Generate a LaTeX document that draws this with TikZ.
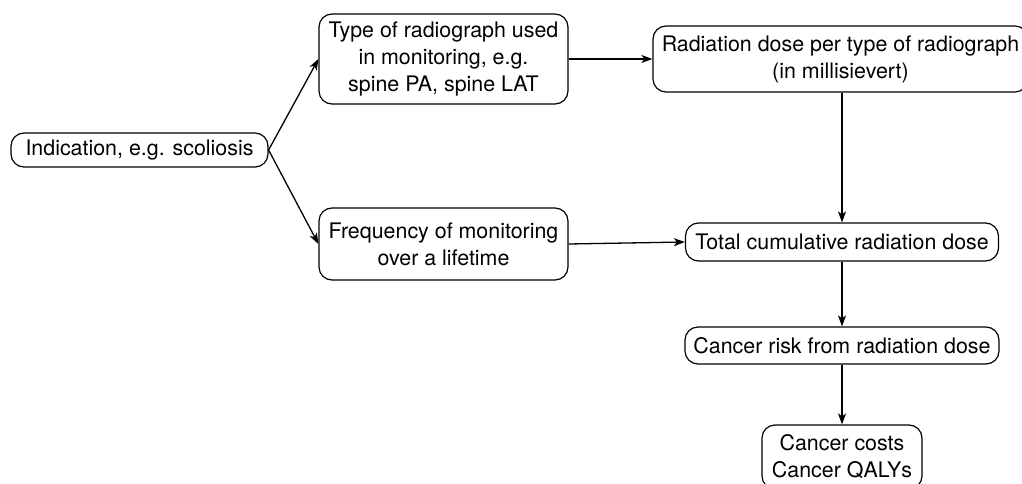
\documentclass[tikz,border=0pt]{standalone}
\usepackage{fontspec}
\setmainfont{TeX Gyre Heros}
\usepackage{tikz}
\usetikzlibrary{arrows.meta}
\newcommand*{\picW}{1022}
\newcommand*{\picH}{484}
\newcommand*{\colX}{842}

\begin{document}
\begin{tikzpicture}[x=1pt, y=-1pt,
    box/.style={draw, line width=1.2pt, rounded corners=13pt, align=center,
        inner sep=0pt, font=\fontsize{21.4}{27}\selectfont},
    flow/.style={-{Stealth[length=11pt, width=8pt, inset=3pt]}, line width=1.3pt}]
    \useasboundingbox (0,0) rectangle (\picW,\picH);

    \node [box, minimum width=257pt, minimum height=34pt] (ind) at (139.5,150) {Indication, e.g. scoliosis};
    \node [box, minimum width=249pt, minimum height=90pt] (typ) at (443.5,59) {Type of radiograph used\\in monitoring, e.g.\\spine PA, spine LAT};
    \node [box, minimum width=249pt, minimum height=72pt] (frq) at (443.5,244) {Frequency of monitoring\\over a lifetime};
    \node [box, minimum width=375pt, minimum height=66pt] (rad) at (840.5,59) {Radiation dose per type of radiograph\\(in millisievert)};
    \node [box, minimum width=313pt, minimum height=38pt] (tot) at (\colX,242) {Total cumulative radiation dose};
    \node [box, minimum width=314pt, minimum height=37pt] (risk) at (\colX,345.5) {Cancer risk from radiation dose};
    \node [box, minimum width=160pt, minimum height=64pt] (cost) at (\colX,457) {Cancer costs\\Cancer QALYs};

    % connectors
    \draw [flow] (ind.east) -- (typ.west);
    \draw [flow] (ind.east) -- (frq.west);
    \draw [flow] (typ.east) -- (rad.west);
    \draw [flow] (frq.east) -- (tot.west);
    \draw [flow] (tot.north |- rad.south) -- (tot.north);
    \draw [flow] (tot.south) -- (risk.north);
    \draw [flow] (risk.south) -- (cost.north);
\end{tikzpicture}
\end{document}
